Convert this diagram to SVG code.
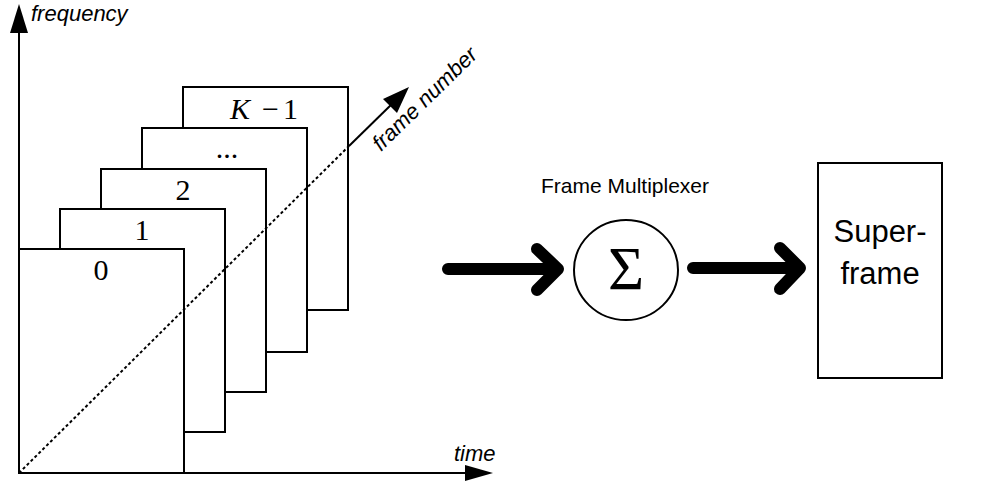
<svg xmlns="http://www.w3.org/2000/svg" width="983" height="489" viewBox="0 0 983 489">
  <style>
    .frame { fill: #ffffff; stroke: #000000; stroke-width: 2; }
    .axis { fill: none; stroke: #000000; stroke-width: 2; }
    .num { font-family: "Liberation Serif", "Times New Roman", serif; font-size: 30px; fill: #000000; text-anchor: middle; }
    .num-start { text-anchor: start; }
    .lbl { font-family: "Liberation Sans", Arial, sans-serif; font-style: italic; font-size: 22px; fill: #000000; }
    .sans { font-family: "Liberation Sans", Arial, sans-serif; fill: #000000; text-anchor: middle; }
    .thick { fill: none; stroke: #000000; stroke-width: 12; stroke-linecap: round; stroke-linejoin: round; }
    .head { fill: #000000; stroke: none; }
  </style>

  <!-- stacked frames, back to front -->
  <g id="frame-k1">
    <rect class="frame" x="183" y="87" width="165" height="223"/>
    <text class="num num-start" x="230" y="119"><tspan font-style="italic">K</tspan><tspan x="262">−</tspan><tspan x="283">1</tspan></text>
  </g>
  <g id="frame-dots">
    <rect class="frame" x="142" y="128" width="165" height="224"/>
    <text class="num" x="227" y="158">...</text>
  </g>
  <g id="frame-2">
    <rect class="frame" x="101" y="169" width="165" height="223"/>
    <text class="num" x="183" y="200">2</text>
  </g>
  <g id="frame-1">
    <rect class="frame" x="60" y="209" width="165" height="223"/>
    <text class="num" x="142" y="240">1</text>
  </g>
  <g id="frame-0">
    <rect class="frame" x="19" y="249" width="165" height="224"/>
    <text class="num" x="101" y="280">0</text>
  </g>

  <!-- axes -->
  <g id="axes">
    <line class="axis" x1="19" y1="474" x2="19" y2="30"/>
    <polygon class="head" points="19,4 10,33 28,33"/>
    <text class="lbl" x="31" y="21">frequency</text>
    <line class="axis" x1="18" y1="473" x2="470" y2="473"/>
    <polygon class="head" points="493,473 465,465 465,481"/>
    <text class="lbl" x="454" y="461">time</text>
    <line class="axis" x1="19" y1="473" x2="349" y2="146" stroke-dasharray="3,2.5" stroke-width="2.5"/>
    <line class="axis" x1="349" y1="146" x2="395" y2="101"/>
    <polygon class="head" points="409,87 383,99 397,113"/>
    <text class="lbl" x="0" y="0" transform="translate(381,152) rotate(-44.5)">frame number</text>
  </g>

  <!-- multiplexer -->
  <g id="multiplexer">
    <text class="sans" x="625" y="193" font-size="21">Frame Multiplexer</text>
    <ellipse cx="626" cy="270" rx="52" ry="50" fill="#ffffff" stroke="#000000" stroke-width="2"/>
    <text x="626" y="289" font-family="Liberation Serif, Times New Roman, serif" font-size="62" text-anchor="middle">Σ</text>
  </g>

  <!-- superframe -->
  <g id="superframe">
    <rect x="818" y="163" width="124" height="215" fill="#ffffff" stroke="#000000" stroke-width="2"/>
    <text class="sans" x="880" y="242" font-size="31">Super-</text>
    <text class="sans" x="880" y="284" font-size="31">frame</text>
  </g>

  <!-- connectors -->
  <g id="connectors">
    <path class="thick" d="M448,269 H558 M537,249 L558,269 L537,290"/>
    <path class="thick" d="M693,268 H800 M780,248 L800,268 L780,289"/>
  </g>
</svg>
